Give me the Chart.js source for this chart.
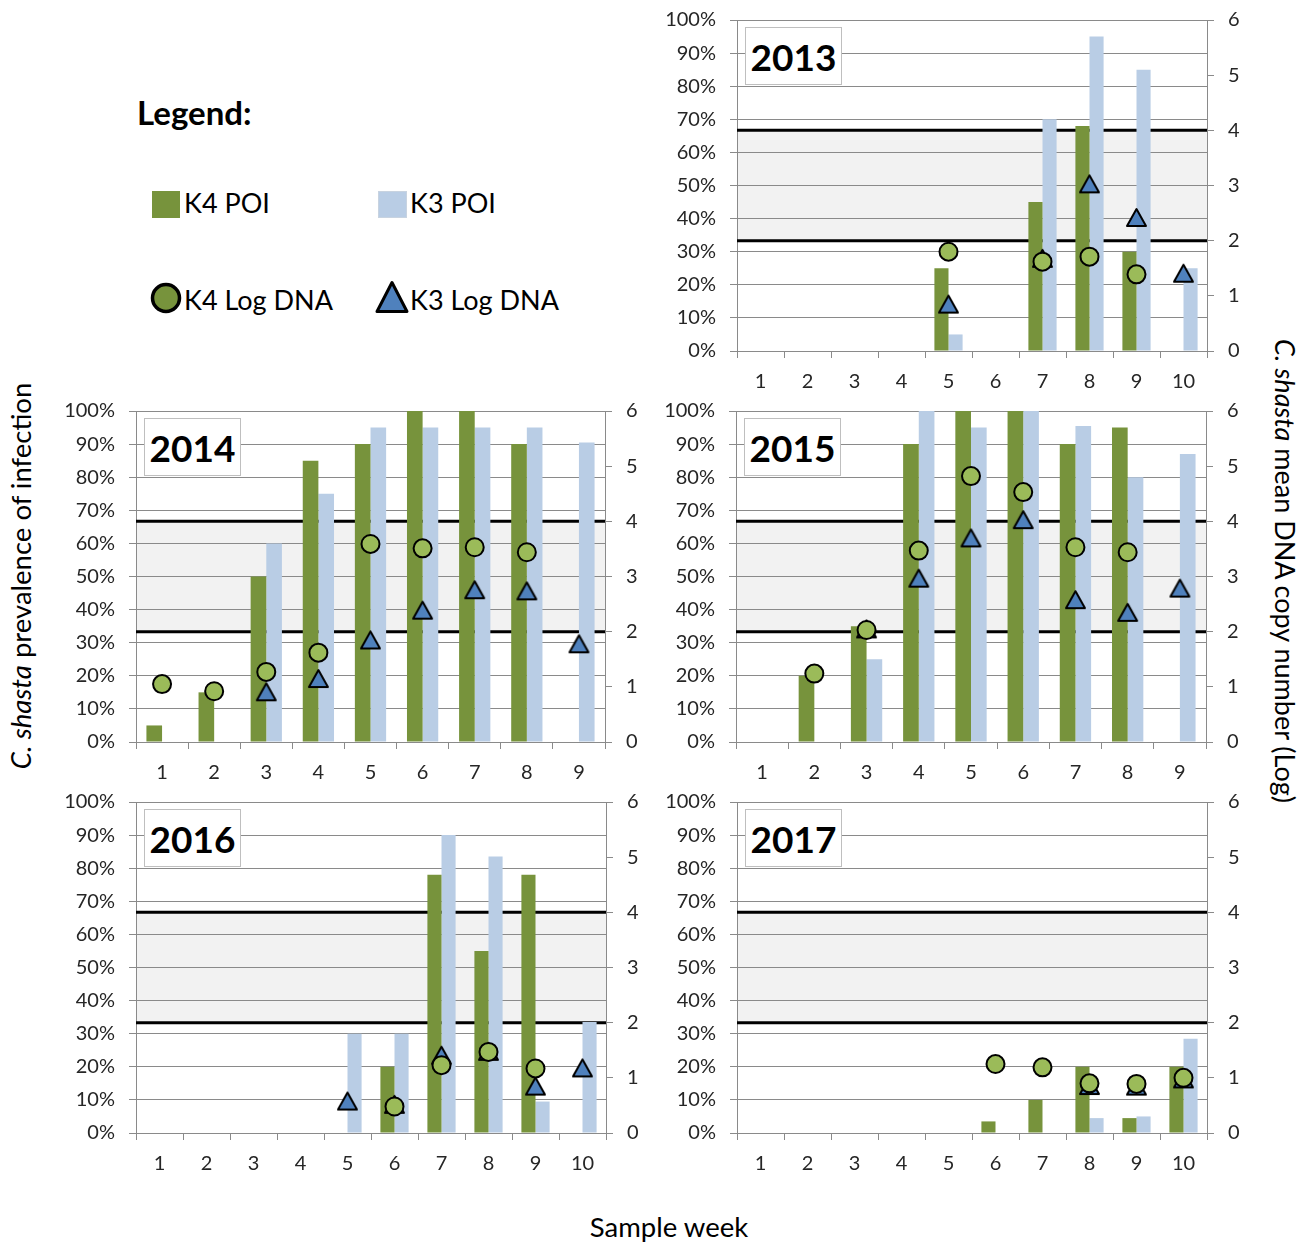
<!DOCTYPE html>
<html>
<head>
<meta charset="utf-8">
<script src="https://cdn.jsdelivr.net/npm/chart.js@4.4.1/dist/chart.umd.min.js"></script>
<style>
html,body{margin:0;padding:0;background:#fff;}
body{width:1314px;height:1247px;position:relative;overflow:hidden;font-family:Lato,'Open Sans',sans-serif;color:#000;}
canvas.pc{position:absolute;}
.t{position:absolute;white-space:nowrap;line-height:1;}
.yearbox{position:absolute;width:95px;height:56px;border:1px solid #BFBFBF;background:#fff;font-weight:bold;font-size:37px;display:flex;align-items:center;justify-content:center;line-height:1;}
.sq{position:absolute;}
</style>
</head>
<body>
<div class="t" style="left:137px;top:96px;font-size:33px;font-weight:bold;">Legend:</div>
<div class="sq" style="left:152px;top:191px;width:28px;height:27px;background:#77933C;"></div>
<div class="t" style="left:184px;top:189px;font-size:27px;">K4 POI</div>
<div class="sq" style="left:378px;top:191px;width:27px;height:25px;background:#B9CDE5;border:1px solid #C8D3E0;"></div>
<div class="t" style="left:410px;top:189px;font-size:27px;">K3 POI</div>
<svg class="sq" style="left:148px;top:280px;" width="36" height="36"><circle cx="18" cy="18" r="13.5" fill="#77933C" stroke="#000" stroke-width="3.5"/></svg>
<div class="t" style="left:184px;top:286px;font-size:27px;">K4 Log DNA</div>
<svg class="sq" style="left:374px;top:279px;" width="36" height="36"><polygon points="18,3.5 33,32.5 3,32.5" fill="#4F81BD" stroke="#000" stroke-width="3" stroke-linejoin="round"/></svg>
<div class="t" style="left:410px;top:286px;font-size:27px;">K3 Log DNA</div>

<div class="t" id="ytitle" style="left:21px;top:576px;font-size:27.5px;transform:translate(-50%,-50%) rotate(-90deg);"><i>C. shasta</i> prevalence of infection</div>
<div class="t" id="y2title" style="left:1285px;top:571px;font-size:27px;transform:translate(-50%,-50%) rotate(90deg);"><i>C. shasta</i> mean DNA copy number (Log)</div>
<div class="t" id="xtitle" style="left:669px;top:1213px;font-size:27.5px;transform:translateX(-50%);">Sample week</div>

<script>
// ---------- data ----------
const weeks9  = ['1','2','3','4','5','6','7','8','9'];
const weeks10 = ['1','2','3','4','5','6','7','8','9','10'];
const poiAxis = {min: 0, max: 100, step: 10};   // left axis, percent
const logAxis = {min: 0, max: 6, step: 1};      // right axis, log DNA
const bandLow = 2, bandHigh = 4;                // shaded band on log axis

const k4Poi2013 = [0,0,0,0,25,0,45,68,30,0];
const k3Poi2013 = [0,0,0,0,5,0,70,95,85,25];
const k4Log2013 = [null,null,null,null,1.80,null,1.62,1.71,1.39,null];
const k3Log2013 = [null,null,null,null,0.85,null,1.68,3.03,2.42,1.41];

const k4Poi2014 = [5,15,50,85,90,100,100,90,0];
const k3Poi2014 = [0,0,60,75,95,95,95,95,90.5];
const k4Log2014 = [1.05,0.92,1.27,1.62,3.59,3.51,3.53,3.44,null];
const k3Log2014 = [null,null,0.91,1.15,1.85,2.39,2.76,2.74,1.78];

const k4Poi2015 = [0,20,35,90,100,100,90,95,0];
const k3Poi2015 = [0,0,25,100,95,100,95.5,80,87];
const k4Log2015 = [null,1.24,2.03,3.47,4.82,4.53,3.53,3.44,null];
const k3Log2015 = [null,null,2.05,2.97,3.70,4.03,2.58,2.35,2.79];

const k4Poi2016 = [0,0,0,0,0,20,78,55,78,0];
const k3Poi2016 = [0,0,0,0,30,30,90,83.5,9.5,33.5];
const k4Log2016 = [null,null,null,null,null,0.48,1.23,1.47,1.17,null];
const k3Log2016 = [null,null,null,null,0.58,0.52,1.41,1.48,0.85,1.18];

const k4Poi2017 = [0,0,0,0,0,3.5,10,20,4.5,20];
const k3Poi2017 = [0,0,0,0,0,0,0,4.5,5,28.5];
const k4Log2017 = [null,null,null,null,null,1.25,1.19,0.90,0.89,1.00];
const k3Log2017 = [null,null,null,null,null,null,null,0.86,0.85,0.98];

// ---------- layout ----------
const panels = [
  {year:'2013', L:737, T:20,  R:1207, B:351,  labels:weeks10, k4Poi:k4Poi2013, k3Poi:k3Poi2013, k4Log:k4Log2013, k3Log:k3Log2013},
  {year:'2014', L:136, T:411, R:605,  B:742,  labels:weeks9,  k4Poi:k4Poi2014, k3Poi:k3Poi2014, k4Log:k4Log2014, k3Log:k3Log2014},
  {year:'2015', L:736, T:411, R:1206, B:742,  labels:weeks9,  k4Poi:k4Poi2015, k3Poi:k3Poi2015, k4Log:k4Log2015, k3Log:k3Log2015},
  {year:'2016', L:136, T:802, R:606,  B:1133, labels:weeks10, k4Poi:k4Poi2016, k3Poi:k3Poi2016, k4Log:k4Log2016, k3Log:k3Log2016},
  {year:'2017', L:737, T:802, R:1207, B:1133, labels:weeks10, k4Poi:k4Poi2017, k3Poi:k3Poi2017, k4Log:k4Log2017, k3Log:k3Log2017}
];

const PADL = 85, PADR = 50, PADB = 50;
const GRID = '#8a8a8a';
const TICKFONT = {family: 'Lato', size: 20};
const TICKCOLOR = '#262626';

function triangleImage() {
  const w = 23, h = 21;
  const c = document.createElement('canvas'); c.width = w; c.height = h;
  const g = c.getContext('2d');
  g.beginPath();
  g.moveTo(w/2, 2); g.lineTo(w - 2, h - 2); g.lineTo(2, h - 2); g.closePath();
  g.fillStyle = '#4F81BD'; g.fill();
  g.lineWidth = 2; g.lineJoin = 'round'; g.strokeStyle = '#000'; g.stroke();
  return c;
}

const bandPlugin = {
  id: 'band',
  beforeDraw(chart) {
    const a = chart.chartArea, y2 = chart.scales.y2, ctx = chart.ctx;
    const top = y2.getPixelForValue(bandHigh), bot = y2.getPixelForValue(bandLow);
    ctx.save(); ctx.fillStyle = '#F2F2F2';
    ctx.fillRect(a.left, top, a.right - a.left, bot - top); ctx.restore();
  },
  beforeDatasetsDraw(chart) {
    const a = chart.chartArea, y2 = chart.scales.y2, ctx = chart.ctx;
    ctx.save(); ctx.strokeStyle = '#000'; ctx.lineWidth = 3;
    [bandHigh, bandLow].forEach(v => {
      const p = y2.getPixelForValue(v);
      ctx.beginPath(); ctx.moveTo(a.left, p); ctx.lineTo(a.right, p); ctx.stroke();
    });
    ctx.restore();
  }
};

function makeConfig(p, tri) {
  return {
    type: 'bar',
    data: {
      labels: p.labels,
      datasets: [
        {type:'line', label:'K4 Log DNA', data:p.k4Log, yAxisID:'y2', showLine:false,
         pointStyle:'circle', pointRadius:9, pointBorderWidth:2,
         pointBackgroundColor:'#9BBB59', pointBorderColor:'#000', order:0},
        {type:'line', label:'K3 Log DNA', data:p.k3Log, yAxisID:'y2', showLine:false,
         pointStyle:tri, pointRadius:10, order:1},
        {type:'bar', label:'K4 POI', data:p.k4Poi, yAxisID:'y', backgroundColor:'#77933C',
         borderWidth:0, categoryPercentage:0.6, barPercentage:1.0, order:2},
        {type:'bar', label:'K3 POI', data:p.k3Poi, yAxisID:'y', backgroundColor:'#B9CDE5',
         borderWidth:0, categoryPercentage:0.6, barPercentage:1.0, order:3}
      ]
    },
    options: {
      responsive:false, maintainAspectRatio:false, animation:false, devicePixelRatio:1,
      layout:{padding:0},
      plugins:{legend:{display:false}, tooltip:{enabled:false}, title:{display:false}},
      scales:{
        x:{
          type:'category', offset:true,
          grid:{offset:true, drawOnChartArea:false, drawTicks:true, tickLength:7, color:GRID, lineWidth:1},
          border:{color:GRID, width:1},
          ticks:{font:TICKFONT, color:TICKCOLOR, padding:12, maxRotation:0, autoSkip:false},
          afterFit(s){ s.height = PADB; }
        },
        y:{
          position:'left', min:poiAxis.min, max:poiAxis.max,
          ticks:{stepSize:poiAxis.step, font:TICKFONT, color:TICKCOLOR, padding:14,
                 callback:v => v + '%'},
          grid:{color:GRID, lineWidth:1, drawTicks:true, tickLength:7},
          border:{color:GRID, width:1},
          afterFit(s){ s.width = PADL; }
        },
        y2:{
          position:'right', min:logAxis.min, max:logAxis.max,
          ticks:{stepSize:logAxis.step, font:TICKFONT, color:TICKCOLOR, padding:14},
          grid:{drawOnChartArea:false, drawTicks:true, tickLength:7, color:GRID},
          border:{color:GRID, width:1},
          afterFit(s){ s.width = PADR; }
        }
      }
    },
    plugins:[bandPlugin]
  };
}

function build() {
  const tri = triangleImage();
  panels.forEach(p => {
    const w = p.R - p.L + PADL + PADR;
    let h = p.B - p.T + PADB + 20;
    let cv, chart;
    for (let pass = 0; pass < 3; pass++) {
      if (cv) { chart.destroy(); cv.remove(); }
      cv = document.createElement('canvas');
      cv.className = 'pc';
      cv.width = w; cv.height = h;
      cv.style.width = w + 'px'; cv.style.height = h + 'px';
      document.body.appendChild(cv);
      chart = new Chart(cv.getContext('2d'), makeConfig(p, tri));
      const ca = chart.chartArea;
      const dh = (p.B - p.T) - (ca.bottom - ca.top);
      if (Math.abs(dh) < 0.5) break;
      h = Math.round(h + dh);
    }
    cv.style.left = (p.L - chart.chartArea.left) + 'px';
    cv.style.top = (p.T - chart.chartArea.top) + 'px';

    const yb = document.createElement('div');
    yb.className = 'yearbox';
    yb.style.left = (p.L + 8) + 'px';
    yb.style.top = (p.T + 7) + 'px';
    yb.textContent = p.year;
    document.body.appendChild(yb);
  });
}

if (document.fonts && document.fonts.load) {
  Promise.all([document.fonts.load('20px Lato'), document.fonts.load('bold 37px Lato')])
    .then(build, build);
} else { build(); }
</script>
</body>
</html>
